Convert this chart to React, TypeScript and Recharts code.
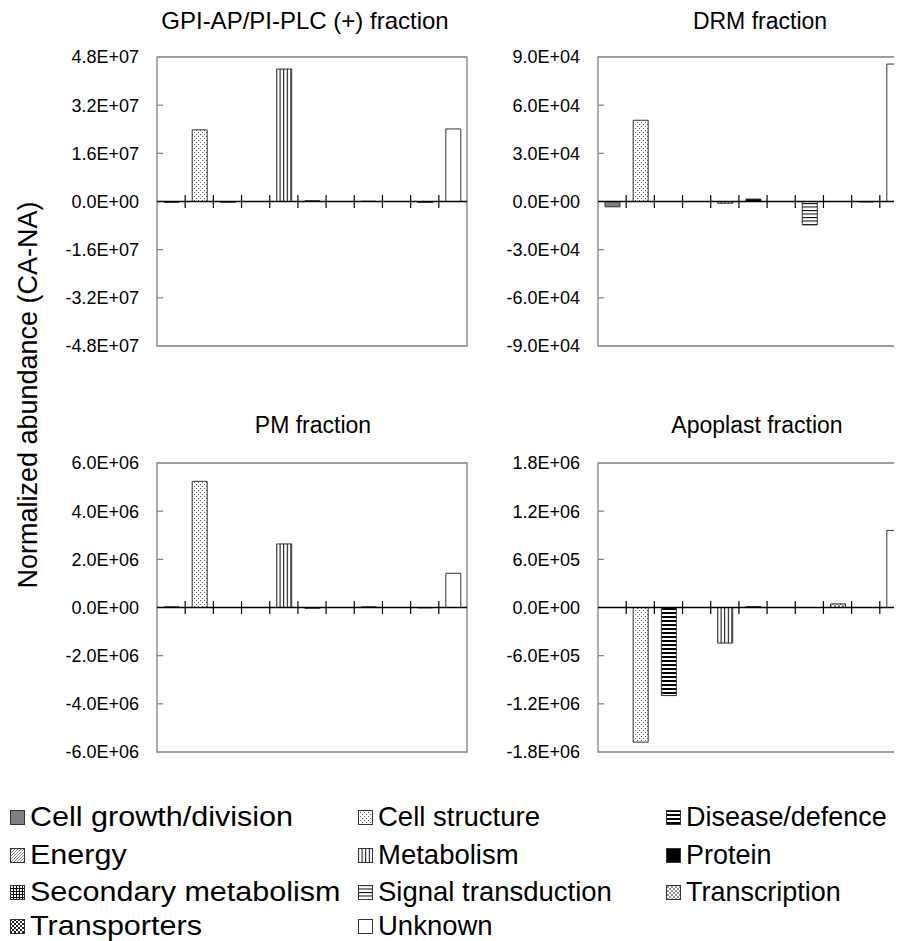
import { BarChart, Bar, Cell, XAxis, YAxis, ReferenceLine, ReferenceArea } from "recharts"

const categories = [
  "Cell growth/division",
  "Cell structure",
  "Disease/defence",
  "Energy",
  "Metabolism",
  "Protein",
  "Secondary metabolism",
  "Signal transduction",
  "Transcription",
  "Transporters",
  "Unknown",
]

// values per fraction (CA-NA), null = no bar
const gpiValues = [-3e5, 2.38e7, -2.5e5, null, 4.4e7, 2.5e5, null, 1e5, null, -3e5, 2.41e7]
const drmValues = [-3.3e3, 5.06e4, null, null, -1.1e3, 1.5e3, null, -1.46e4, null, -300, 8.56e4]
const pmValues = [3e4, 5.24e6, null, null, 2.64e6, -3e4, null, 3e4, null, -1.5e4, 1.42e6]
const apoValues = [null, -1.677e6, -1.097e6, null, -4.43e5, 1.2e4, null, null, 4.5e4, null, 9.6e5]

const gpiTicks = [-4.8e7, -3.2e7, -1.6e7, 0, 1.6e7, 3.2e7, 4.8e7]
const drmTicks = [-9e4, -6e4, -3e4, 0, 3e4, 6e4, 9e4]
const pmTicks = [-6e6, -4e6, -2e6, 0, 2e6, 4e6, 6e6]
const apoTicks = [-1.8e6, -1.2e6, -6e5, 0, 6e5, 1.2e6, 1.8e6]

const fills = [
  "#808080",
  "url(#pat-dots)",
  "url(#pat-hdense)",
  "url(#pat-diag)",
  "url(#pat-vert)",
  "#000",
  "url(#pat-grid)",
  "url(#pat-hline)",
  "url(#pat-cross)",
  "url(#pat-check)",
  "#fff",
]

const font = '"Liberation Sans", Arial, sans-serif'

const fmt = (v: number) => {
  const [m, e] = v.toExponential(1).split("e")
  const sign = e[0] === "-" ? "-" : "+"
  const digits = e.replace(/[+-]/, "").padStart(2, "0")
  return `${m}E${sign}${digits}`
}

function Patterns() {
  return (
    <svg width="0" height="0" style={{ position: "absolute" }}>
      <defs>
        <pattern id="pat-dots" width="4" height="4" patternUnits="userSpaceOnUse">
          <rect width="4" height="4" fill="#fff" />
          <rect x="0" y="0" width="1" height="1" fill="#555" />
          <rect x="2" y="2" width="1" height="1" fill="#555" />
        </pattern>
        <pattern id="pat-diag" width="3" height="3" patternUnits="userSpaceOnUse">
          <rect width="3" height="3" fill="#fff" />
          <path d="M0,3 L3,0 M-1,1 L1,-1 M2,4 L4,2" stroke="#666" strokeWidth="0.8" />
        </pattern>
        <pattern id="pat-vert" width="3.6" height="4" patternUnits="userSpaceOnUse">
          <rect width="3.6" height="4" fill="#fff" />
          <rect x="0" y="0" width="1" height="4" fill="#000" />
        </pattern>
        <pattern id="pat-hdense" width="4" height="4" patternUnits="userSpaceOnUse">
          <rect width="4" height="4" fill="#fff" />
          <rect x="0" y="0" width="4" height="2" fill="#000" />
        </pattern>
        <pattern id="pat-hline" width="4" height="3.5" patternUnits="userSpaceOnUse">
          <rect width="4" height="3.5" fill="#fff" />
          <rect x="0" y="0" width="4" height="1" fill="#000" />
        </pattern>
        <pattern id="pat-grid" width="3" height="3" patternUnits="userSpaceOnUse">
          <rect width="3" height="3" fill="#fff" />
          <rect x="0" y="0" width="1" height="3" fill="#000" />
          <rect x="0" y="0" width="3" height="1" fill="#000" />
        </pattern>
        <pattern id="pat-cross" width="4" height="4" patternUnits="userSpaceOnUse">
          <rect width="4" height="4" fill="#fff" />
          <path d="M0,0 L4,4 M0,4 L4,0" stroke="#777" strokeWidth="0.8" />
        </pattern>
        <pattern id="pat-check" width="4" height="4" patternUnits="userSpaceOnUse">
          <rect width="4" height="4" fill="#fff" />
          <rect x="0" y="0" width="2" height="2" fill="#222" />
          <rect x="2" y="2" width="2" height="2" fill="#222" />
        </pattern>
      </defs>
    </svg>
  )
}

interface PanelProps {
  values: (number | null)[]
  ticks: number[]
  left: number
  top: number
}

function Panel({ values, ticks, left, top }: PanelProps) {
  const max = Math.max(...ticks)
  const data = categories.map((name, i) => ({ name, x: i + 0.5, value: values[i] }))
  const bounds = categories.slice(1).map((_, i) => i + 1)
  const innerTicks = ticks.filter((t) => Math.abs(t) !== max && t !== 0)

  return (
    <div style={{ position: "absolute", left, top }}>
      <BarChart width={412} height={319} data={data} margin={{ top: 15, right: 5, bottom: 15, left: 0 }}>
        <XAxis type="number" dataKey="x" domain={[0, categories.length]} allowDataOverflow hide />
        <YAxis
          type="number"
          domain={[-max, max]}
          ticks={ticks}
          allowDataOverflow
          interval={0}
          width={97}
          axisLine={false}
          tickLine={false}
          tickSize={0}
          tickMargin={18}
          tickFormatter={fmt}
          tick={{ fontSize: 18, fill: "#000", fontFamily: font }}
        />
        <ReferenceArea x1={0} x2={categories.length} y1={-max} y2={max} fill="none" stroke="#808080" strokeWidth={1.3} />
        {innerTicks.map((t) => (
          <ReferenceLine key={t} segment={[{ x: 0, y: t }, { x: 0.22, y: t }]} stroke="#808080" strokeWidth={1.2} />
        ))}
        <Bar dataKey="value" barSize={15} stroke="#333" strokeWidth={1} isAnimationActive={false}>
          {data.map((d, i) => (
            <Cell key={d.name} fill={fills[i]} />
          ))}
        </Bar>
        <ReferenceLine y={0} stroke="#000" strokeWidth={1.4} />
        {bounds.map((b) => (
          <ReferenceLine key={b} segment={[{ x: b, y: -max * 0.045 }, { x: b, y: max * 0.045 }]} stroke="#000" strokeWidth={1.2} />
        ))}
      </BarChart>
    </div>
  )
}

function Title({ text, cx, cy, size }: { text: string; cx: number; cy: number; size: number }) {
  return (
    <div
      style={{
        position: "absolute",
        left: cx - 200,
        top: cy - 13,
        width: 400,
        lineHeight: "26px",
        textAlign: "center",
        fontSize: size,
      }}
    >
      {text}
    </div>
  )
}

// legend layout: swatch x and horizontal stretch per column, row centres
const legendCols = [2, 350, 658]
const legendStretch = [1.11, 1, 0.98]
const legendRows = [809, 847, 884, 918]

export default function App() {
  return (
    <div
      style={{
        position: "relative",
        width: 894,
        height: 933,
        overflow: "hidden",
        background: "#fff",
        fontFamily: font,
        color: "#000",
      }}
    >
      <Patterns />
      <Title text="GPI-AP/PI-PLC (+) fraction" cx={297} cy={13} size={24} />
      <Title text="DRM fraction" cx={752} cy={13} size={23} />
      <Title text="PM fraction" cx={305} cy={417} size={23} />
      <Title text="Apoplast fraction" cx={749} cy={417} size={23} />
      <div
        style={{
          position: "absolute",
          left: 20 - 250,
          top: 387 - 17,
          width: 500,
          lineHeight: "34px",
          textAlign: "center",
          fontSize: 27,
          transform: "rotate(-90deg)",
        }}
      >
        Normalized abundance (CA-NA)
      </div>

      <Panel values={gpiValues} ticks={gpiTicks} left={52} top={34} />
      <Panel values={drmValues} ticks={drmTicks} left={493} top={34} />
      <Panel values={pmValues} ticks={pmTicks} left={52} top={440} />
      <Panel values={apoValues} ticks={apoTicks} left={493} top={440} />

      {categories.map((name, i) => (
        <div
          key={name}
          style={{
            position: "absolute",
            left: legendCols[i % 3],
            top: legendRows[Math.floor(i / 3)] - 16,
            height: 32,
            display: "flex",
            alignItems: "center",
            fontSize: 27.5,
            whiteSpace: "nowrap",
          }}
        >
          <svg width="15" height="15" style={{ marginRight: 5, flex: "none" }}>
            <rect x="0.5" y="0.5" width="14" height="14" fill={fills[i]} stroke="#333" strokeWidth="1" />
          </svg>
          <span
            style={{
              display: "inline-block",
              transform: `scaleX(${legendStretch[i % 3]})`,
              transformOrigin: "left center",
            }}
          >
            {name}
          </span>
        </div>
      ))}
    </div>
  )
}
